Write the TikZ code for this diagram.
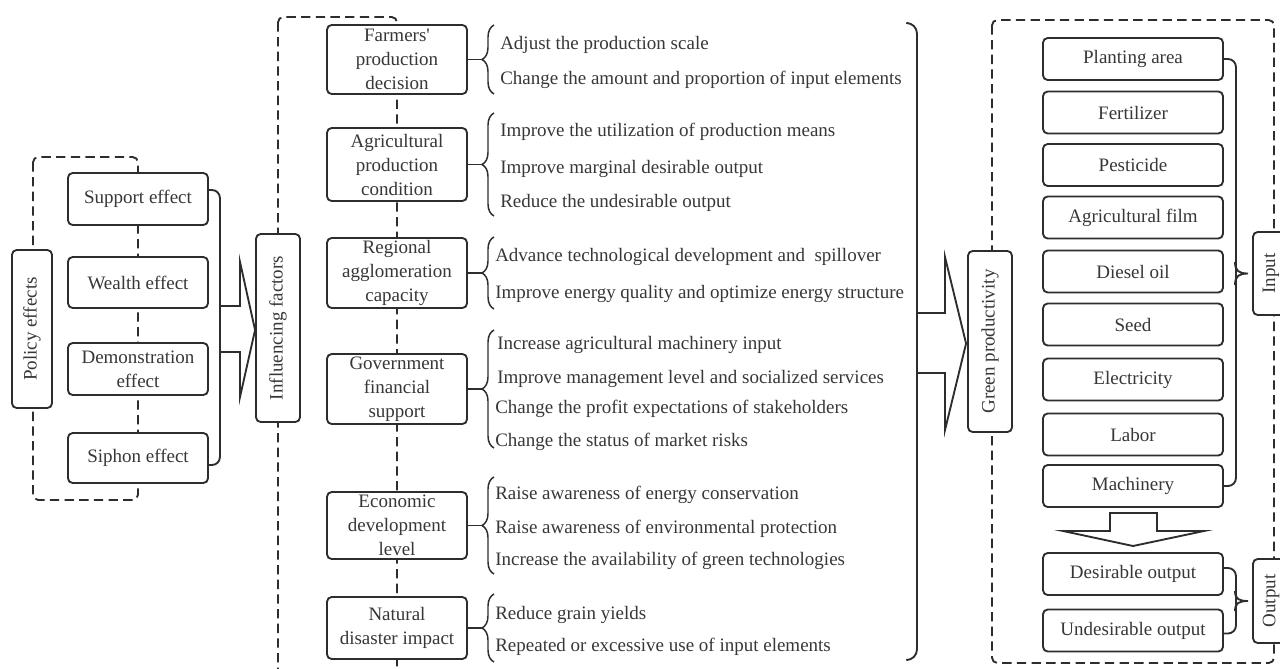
\documentclass[tikz,border=0pt]{standalone}
\usepackage{fontspec}
\setmainfont{Liberation Serif}
\usetikzlibrary{decorations.pathreplacing,calc}
\definecolor{ink}{RGB}{45,45,45}
\definecolor{txt}{RGB}{55,55,55}
\newcommand\sq{\XeTeXglyph\XeTeXcharglyph"27\relax}
\begin{document}
\begin{tikzpicture}[x=0.75pt,y=-0.75pt,
  font=\fontsize{14.25pt}{18pt}\selectfont, text=txt,
  line/.style={draw=ink,line width=1.4pt},
  box/.style={draw=ink,line width=1.4pt,fill=white,rounded corners=3.5pt,inner sep=0pt,align=center},
  bw/.style={minimum width={#1*0.75pt}},
  bh/.style={minimum height={#1*0.75pt}},
  dashbox/.style={draw=ink,line width=1.4pt,dash pattern=on 7pt off 4pt,rounded corners=4pt},
  tbrace/.style={draw=ink,line width=1.1pt,decorate,decoration={brace,amplitude=9pt}},
  item/.style={anchor=base west,inner sep=0pt},
]
\useasboundingbox (0,0) rectangle (1280,668);
\clip (0,0) rectangle (1280,668);

% dashed frames
\draw[dashbox] (33,157) rectangle (138,500);
\draw[dashbox] (278,17) rectangle (397,720);
\draw[dashbox] (992,20) rectangle (1274,663);

% policy group
\node[box,rotate=90,bw=158,bh=40] (pol) at (32,329) {Policy effects};
\node[box,bw=140,bh=52] (sup) at (138,199) {Support effect};
\node[box,bw=140,bh=51] (wea) at (138,282.5) {Wealth effect};
\node[box,bw=140,bh=52] (dem) at (138,369) {Demonstration\\effect};
\node[box,bw=140,bh=50] (sip) at (138,458) {Siphon effect};
\draw[line,rounded corners=6pt] ($(sup.east)+(0,-9)$) -| ($(sip.east)+(11,7)$) -- ($(sip.east)+(0,7)$);

% influencing factors
\node[box,rotate=90,bw=188,bh=44] (inf) at (278,328) {Influencing factors};
\draw[line] (219,306) -- (240,306) -- (240,262) -- ($(inf.north)+(0,2)$) -- (240,397) -- (240,352) -- (219,352);

% middle boxes
\node[box,bw=140,bh=69] (f1) at (397,59.5) {Farmers\sq\\production\\decision};
\node[box,bw=140,bh=73] (f2) at (397,164.5) {Agricultural\\production\\condition};
\node[box,bw=140,bh=70] (f3) at (397,273) {Regional\\agglomeration\\capacity};
\node[box,bw=140,bh=70] (f4) at (397,389) {Government\\financial\\support};
\node[box,bw=140,bh=67] (f5) at (397,525.5) {Economic\\development\\level};
\node[box,bw=140,bh=62] (f6) at (397,628) {Natural\\disaster impact};

% braces and texts
\draw[tbrace] (494,94) -- (494,25);
\draw[line,line width=1.1pt] (f1.east) -- ++(15,0);
\node[item] (t11) at (500,49) {Adjust the production scale};
\node[item] (t12) at (500,84) {Change the amount and proportion of input elements};

\draw[tbrace] (494,216) -- (494,113);
\draw[line,line width=1.1pt] (f2.east) -- ++(15,0);
\node[item] (t21) at (500,136) {Improve the utilization of production means};
\node[item] (t22) at (500,173) {Improve marginal desirable output};
\node[item] (t23) at (500,207) {Reduce the undesirable output};

\draw[tbrace] (494,309) -- (494,237);
\draw[line,line width=1.1pt] (f3.east) -- ++(15,0);
\node[item] (t31) at (495,261) {Advance technological development and~ spillover};
\node[item] (t32) at (495,298) {Improve energy quality and optimize energy structure};

\draw[tbrace] (494,448) -- (494,330);
\draw[line,line width=1.1pt] (f4.east) -- ++(15,0);
\node[item] (t41) at (497,349) {Increase agricultural machinery input};
\node[item] (t42) at (497,383) {Improve management level and socialized services};
\node[item] (t43) at (495,413) {Change the profit expectations of stakeholders};
\node[item] (t44) at (495,446) {Change the status of market risks};

\draw[tbrace] (494,574) -- (494,477);
\draw[line,line width=1.1pt] (f5.east) -- ++(15,0);
\node[item] (t51) at (495,499) {Raise awareness of energy conservation};
\node[item] (t52) at (495,533) {Raise awareness of environmental protection};
\node[item] (t53) at (495,565) {Increase the availability of green technologies};

\draw[tbrace] (494,662) -- (494,594);
\draw[line,line width=1.1pt] (f6.east) -- ++(15,0);
\node[item] (t61) at (495,619) {Reduce grain yields};
\node[item] (t62) at (495,651) {Repeated or excessive use of input elements};

% big right bracket and arrow
\draw[line,rounded corners=8pt] (908,23) -| (917,342) |- (908,660);
\node[box,rotate=90,bw=181,bh=44] (grn) at (990,341.5) {Green productivity};
\draw[line] (917,313) -- (945,313) -- (945,257) -- ($(grn.north)+(-1,2)$) -- (945,430) -- (945,373) -- (917,373);

% right column
\node[box,bw=180,bh=42] (pla) at (1133,59) {Planting area};
\node[box,bw=180,bh=42] (fer) at (1133,112.5) {Fertilizer};
\node[box,bw=180,bh=42] (pes) at (1133,165) {Pesticide};
\node[box,bw=180,bh=42] (fil) at (1133,217.5) {Agricultural film};
\node[box,bw=180,bh=42] (die) at (1133,271.5) {Diesel oil};
\node[box,bw=180,bh=42] (see) at (1133,324.5) {Seed};
\node[box,bw=180,bh=42] (ele) at (1133,379.5) {Electricity};
\node[box,bw=180,bh=42] (lab) at (1133,434.5) {Labor};
\node[box,bw=180,bh=42] (mac) at (1133,486) {Machinery};
\node[box,bw=180,bh=42] (des) at (1133,574) {Desirable output};
\node[box,bw=180,bh=42] (und) at (1133,630.5) {Undesirable output};
\node[box,rotate=90,bw=83,bh=36] (inp) at (1271,273.5) {Input};
\node[box,rotate=90,bw=84,bh=36] (out) at (1271,601) {Output};

\draw[line] (1110,513) -- (1157,513) -- (1157,531) -- (1204,531) -- (1133,546) -- (1063,531) -- (1110,531) -- cycle;

\draw[line,rounded corners=6pt] (pla.east) -| ($(mac.east)+(12,0)$) -- (mac.east);
\draw[line] (1235,262) .. controls (1235,271) and (1239,273.5) .. ($(inp.north)+(-4,0)$) .. controls (1239,273.5) and (1235,276) .. (1235,285);

\draw[line,rounded corners=6pt] ($(des.east)+(0,-6)$) -| ($(und.east)+(12,3)$) -- ($(und.east)+(0,3)$);
\draw[line] (1235,591) .. controls (1235,599) and (1239,601) .. ($(out.north)+(-4,0)$) .. controls (1239,601) and (1235,603) .. (1235,611);
\end{tikzpicture}
\end{document}
